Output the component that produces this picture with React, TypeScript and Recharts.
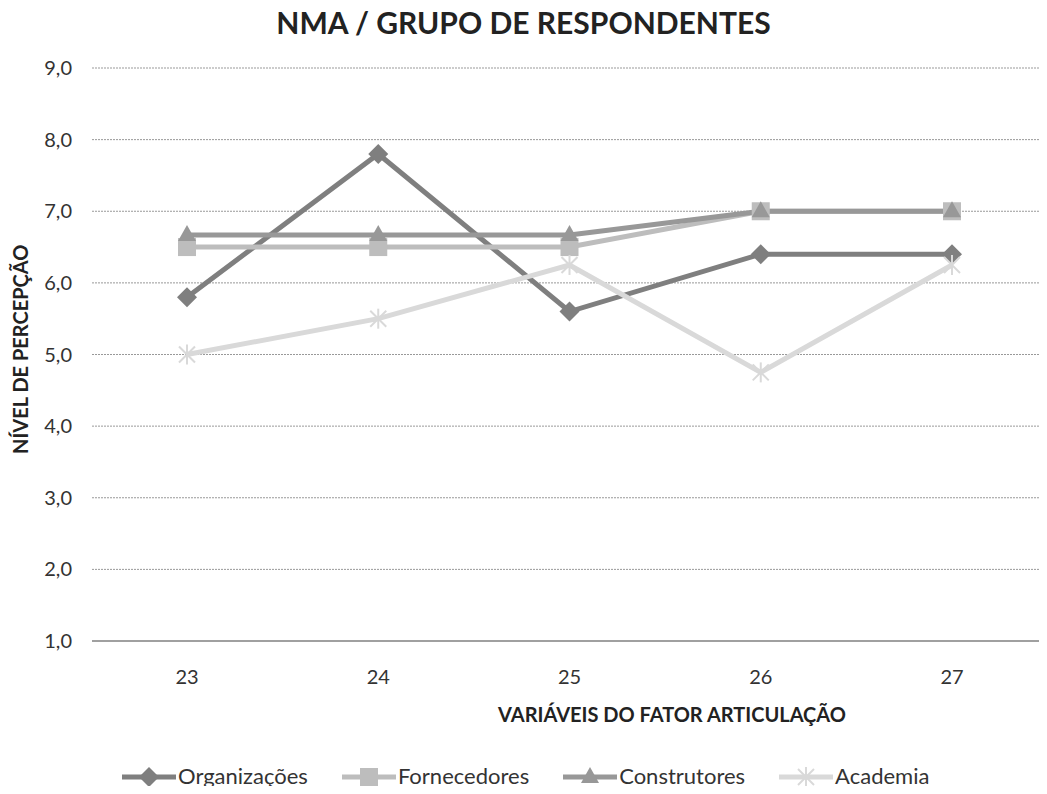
import React from "react";
import { LineChart, Line, XAxis, YAxis, CartesianGrid } from "recharts";

const categories = ["23", "24", "25", "26", "27"];
const organizacoes = [5.8, 7.8, 5.6, 6.4, 6.4];
const fornecedores = [6.5, 6.5, 6.5, 7.0, 7.0];
const construtores = [6.67, 6.67, 6.67, 7.0, 7.0];
const academia = [5.0, 5.5, 6.25, 4.75, 6.25];
const yTicks = [1, 2, 3, 4, 5, 6, 7, 8, 9];

const data = categories.map((c, i) => ({
  name: c,
  org: organizacoes[i],
  forn: fornecedores[i],
  cons: construtores[i],
  acad: academia[i],
}));

const FONT = "Lato, 'Open Sans', sans-serif";

const series = [
  { key: "org", name: "Organizações", color: "#7f7f7f", shape: "diamond" },
  { key: "forn", name: "Fornecedores", color: "#bdbdbd", shape: "square" },
  { key: "cons", name: "Construtores", color: "#989898", shape: "triangle" },
  { key: "acad", name: "Academia", color: "#d9d9d9", shape: "star" },
];

function Marker({ cx, cy, shape, color }: any) {
  if (cx == null || cy == null) return null;
  if (shape === "diamond")
    return <polygon points={`${cx},${cy - 10} ${cx + 10},${cy} ${cx},${cy + 10} ${cx - 10},${cy}`} fill={color} />;
  if (shape === "square")
    return <rect x={cx - 9} y={cy - 9} width={18} height={18} fill={color} />;
  if (shape === "triangle")
    return <polygon points={`${cx},${cy - 10} ${cx + 9},${cy + 6} ${cx - 9},${cy + 6}`} fill={color} />;
  const r = 8;
  return (
    <g stroke={color} strokeWidth={2}>
      <line x1={cx - r} y1={cy - r} x2={cx + r} y2={cy + r} />
      <line x1={cx - r} y1={cy + r} x2={cx + r} y2={cy - r} />
      <line x1={cx} y1={cy - r - 2} x2={cx} y2={cy + r + 2} />
    </g>
  );
}

function LegendRow() {
  return (
    <div style={{ position: "absolute", top: 762, left: 122, display: "flex", fontFamily: FONT, fontSize: 22, color: "#333", lineHeight: "28px" }}>
      {series.map((s) => (
        <div key={s.key} style={{ display: "flex", alignItems: "center", marginRight: 34 }}>
          <svg width={54} height={28}>
            <line x1={0} y1={15} x2={54} y2={15} stroke={s.color} strokeWidth={5} />
            <Marker cx={27} cy={15} shape={s.shape} color={s.color} />
          </svg>
          <span style={{ marginLeft: 2 }}>{s.name}</span>
        </div>
      ))}
    </div>
  );
}

export default function App() {
  return (
    <div style={{ position: "relative", width: 1047, height: 794, margin: -8, background: "#fff", overflow: "hidden" }}>
      <div style={{ position: "absolute", top: 4, left: 0, width: 1047, textAlign: "center", fontFamily: FONT, fontWeight: 700, fontSize: 30, color: "#222" }}>
        NMA / GRUPO DE RESPONDENTES
      </div>
      <div style={{ position: "absolute", top: 702, left: 498, fontFamily: FONT, fontWeight: 700, fontSize: 20, color: "#222" }}>
        VARIÁVEIS DO FATOR ARTICULAÇÃO
      </div>
      <div style={{ position: "absolute", top: 342, left: -80, width: 200, textAlign: "center", transform: "rotate(-90deg)", fontFamily: FONT, fontWeight: 700, fontSize: 20, color: "#222", whiteSpace: "nowrap" }}>
        NÍVEL DE PERCEPÇÃO
      </div>
      <LineChart width={1047} height={794} data={data} margin={{ top: 68, right: 0, left: 0, bottom: 123 }}>
        <CartesianGrid vertical={false} stroke="#999" strokeDasharray="2 1" />
        <XAxis
          dataKey="name"
          height={30}
          padding={{ left: 95, right: 95 }}
          axisLine={{ stroke: "#a0a0a0", strokeWidth: 2 }}
          tickLine={false}
          tick={{ fill: "#333", fontSize: 20, fontFamily: FONT }}
          tickMargin={23}
        />
        <YAxis
          domain={[1, 9]}
          ticks={yTicks}
          width={92}
          axisLine={false}
          tickLine={false}
          tickFormatter={(v: number) => v.toFixed(1).replace(".", ",")}
          tick={{ fill: "#333", fontSize: 20, fontFamily: FONT, dx: -12 }}
        />
        {series.map((s) => (
          <Line
            key={s.key}
            dataKey={s.key}
            name={s.name}
            stroke={s.color}
            strokeWidth={5}
            isAnimationActive={false}
            dot={(p: any) => <Marker key={`${s.key}-${p.index}`} cx={p.cx} cy={p.cy} shape={s.shape} color={s.color} />}
            activeDot={false}
          />
        ))}
      </LineChart>
      <LegendRow />
    </div>
  );
}
